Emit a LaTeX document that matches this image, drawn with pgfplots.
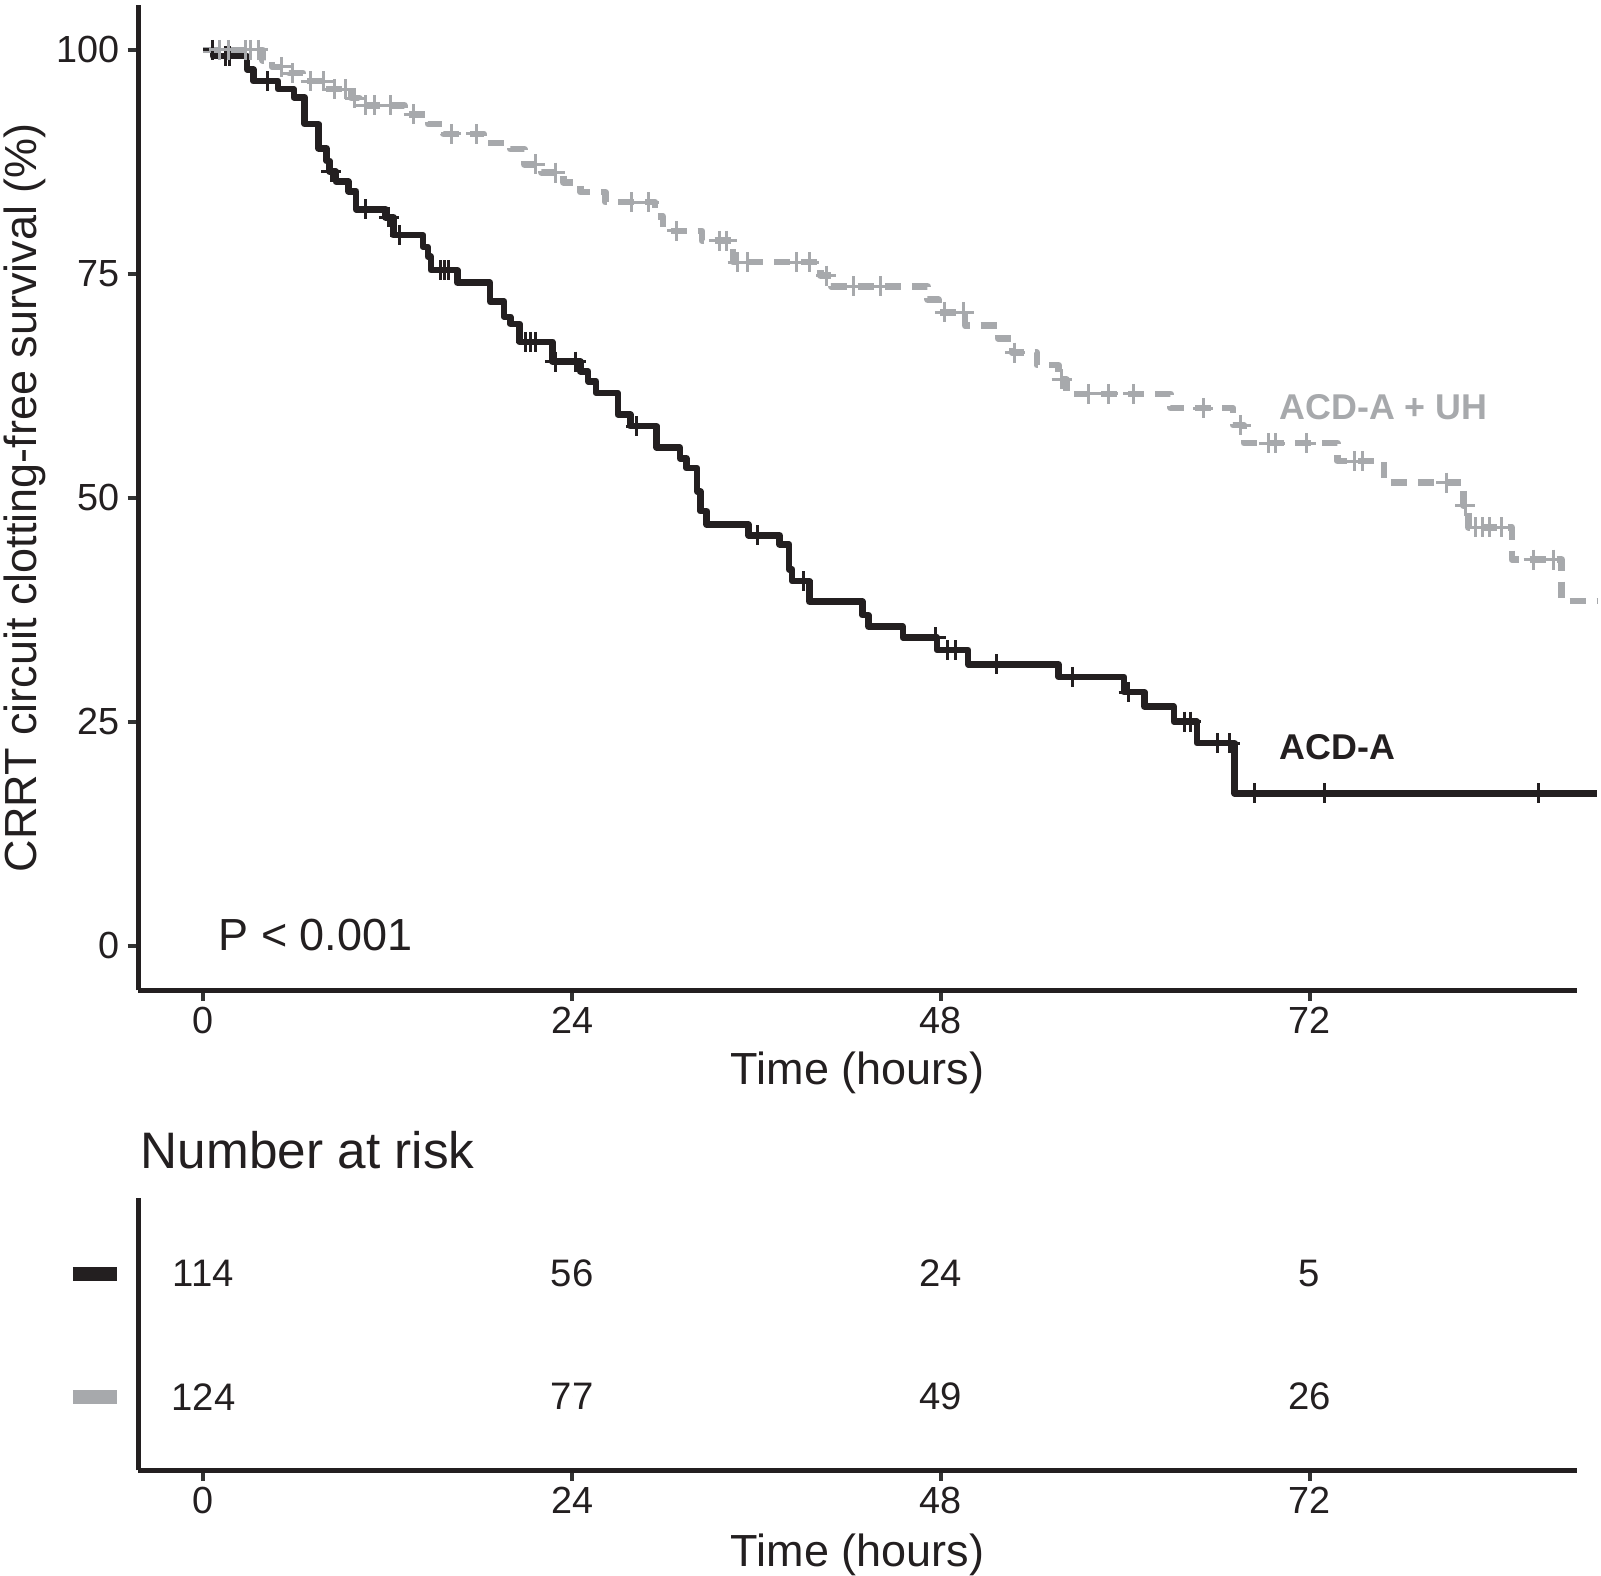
\documentclass[border=0pt]{standalone}
\usepackage{fontspec}
\setmainfont{Liberation Sans}
\usepackage{pgfplots}
\pgfplotsset{compat=1.18}
\usepackage{pgfplotstable}

\definecolor{kmblack}{HTML}{231F20}
\definecolor{kmgray}{HTML}{A7A9AC}
\definecolor{tickgray}{HTML}{333333}

% Kaplan-Meier steps, ACD-A (time in hours, survival in %)
\pgfplotstableread{
t s
0 100
0.61 99.3
2.84 97.8
3.24 96.5
4.86 95.6
5.88 94.7
6.59 91.7
7.50 89.0
8.01 87.6
8.21 86.4
8.62 85.3
9.43 84.2
9.93 82.2
11.86 81.3
12.37 79.3
14.29 78.0
14.60 76.9
14.80 75.4
16.52 74.0
18.65 71.9
19.57 70.2
19.97 69.4
20.58 67.4
22.71 65.2
24.53 64.1
25.04 63.0
25.55 61.7
26.97 59.3
27.78 58.0
29.50 55.6
31.02 54.4
31.43 53.3
32.14 50.7
32.34 48.5
32.75 47.0
35.48 45.8
37.51 44.8
38.12 42.0
38.32 40.7
39.44 38.4
42.89 36.9
43.29 35.6
45.52 34.4
47.75 33.0
49.78 31.4
55.66 30.0
59.92 28.3
61.24 26.7
63.16 25.0
64.68 22.6
67.12 17.0
90.7 17.0
}\acda

% censored, ACD-A
\pgfplotstableread{
t s
0.61 100
1.42 99.3
1.72 99.3
4.15 96.5
8.31 86.4
10.54 82.2
12.06 81.3
12.77 79.3
15.41 75.4
15.71 75.4
15.92 75.4
20.98 67.4
21.29 67.4
21.59 67.4
22.91 65.2
24.23 65.2
28.18 58.0
36.09 45.8
39.03 40.7
47.65 34.4
48.46 33.0
48.97 33.0
51.60 31.4
56.57 30.0
60.22 28.3
63.87 25.0
64.28 25.0
66.00 22.6
66.81 22.6
68.44 17.0
73.00 17.0
86.89 17.0
}\acdacens

% Kaplan-Meier steps, ACD-A + UH
\pgfplotstableread{
t s
0 100
3.85 98.8
4.46 98.1
5.57 97.4
6.49 96.5
7.91 95.6
9.63 94.6
10.14 93.8
13.08 92.8
14.60 91.7
15.61 90.6
18.25 89.6
19.97 88.9
20.88 87.2
22.00 86.3
23.42 85.2
24.53 84.1
26.16 83.0
29.40 81.4
29.91 79.8
32.44 78.7
34.47 76.3
40.15 74.8
40.86 73.6
47.14 72.1
47.85 70.7
49.58 69.2
51.71 67.8
52.62 66.2
54.24 64.8
55.66 63.2
56.17 61.6
62.96 60.0
67.02 58.1
67.73 56.1
73.81 54.1
76.85 51.7
82.02 49.1
82.33 46.7
85.16 43.1
88.41 38.5
90.7 38.5
}\acdauh

% censored, ACD-A + UH
\pgfplotstableread{
t s
1.01 100
1.62 100
2.73 100
3.04 100
3.55 100
5.07 98.1
5.78 97.4
6.99 96.5
7.80 96.5
8.51 95.6
9.22 95.6
9.83 94.6
10.54 93.8
11.15 93.8
12.16 93.8
13.68 92.8
16.12 90.6
17.74 90.6
21.59 87.2
22.91 86.3
27.88 83.0
28.99 83.0
30.82 79.8
33.56 78.7
34.06 78.7
34.77 76.3
35.38 76.3
38.63 76.3
39.44 76.3
40.55 74.8
42.28 73.6
44.10 73.6
48.26 70.7
49.48 70.7
52.82 66.2
55.86 63.2
57.59 61.6
58.90 61.6
60.53 61.6
65.09 60.0
67.52 58.1
69.35 56.1
69.75 56.1
71.78 56.1
74.92 54.1
75.43 54.1
80.90 51.7
82.12 49.1
82.83 46.7
83.24 46.7
83.74 46.7
84.46 46.7
86.58 43.1
87.90 43.1
}\acdauhcens

\pgfplotsset{
  kmaxis/.style={
    scale only axis,
    width=143.87mm,
    xmin=-4.25, xmax=89.4,
    axis x line=bottom, axis y line=left,
    axis line style={-, line width=0.47mm, kmblack},
    tick align=outside,
    major tick length=1.05mm,
    tick style={line width=0.4mm, tickgray},
    xtick={0,24,48,72},
    /pgf/number format/assume math mode=true,
    tick label style={font=\fontsize{10.75}{12}\selectfont, text=kmblack},
    xticklabel style={anchor=base, inner sep=0pt, yshift=-3.3mm},
    label style={font=\fontsize{12.8}{15}\selectfont, text=kmblack},
    xlabel={Time (hours)},
  },
}

\begin{document}
\begin{tikzpicture}
\useasboundingbox (0,0) rectangle (160.1mm,157.6mm);

% survival curves
\begin{axis}[kmaxis,
  at={(13.82mm,58.55mm)}, anchor=south west,
  height=98.55mm,
  ymin=-5, ymax=105,
  clip=false,
  ytick={0,25,50,75,100},
  yticklabel style={anchor=east, inner sep=0pt, xshift=-0.7mm},
  xlabel style={at={(axis description cs:0.5,0)}, anchor=base, inner sep=0pt, yshift=-9.45mm},
  ylabel={CRRT circuit clotting-free survival (\%)},
  ylabel style={at={(axis description cs:-0.0787,0.5)}, anchor=center, inner sep=0pt},
]
\addplot[const plot, kmblack, line width=0.65mm, line join=round] table[x=t,y=s] {\acda};
\addplot[only marks, mark=+, mark size=1mm, kmblack, mark options={line width=0.3mm}] table[x=t,y=s] {\acdacens};
\addplot[const plot, kmgray, line width=0.65mm, line join=round, dash pattern=on 1.6mm off 1.1mm] table[x=t,y=s] {\acdauh};
\addplot[only marks, mark=+, mark size=1mm, kmgray, mark options={line width=0.3mm}] table[x=t,y=s] {\acdauhcens};
\node[anchor=west, inner sep=0pt, font=\fontsize{12.8}{15}\selectfont, text=kmblack] at (axis cs:0.94,1.2) {P < 0.001};
\node[anchor=west, inner sep=0pt, font=\bfseries\fontsize{10.2}{12}\selectfont, text=kmgray] at (axis cs:70.0,60.1) {ACD-A + UH};
\node[anchor=west, inner sep=0pt, font=\bfseries\fontsize{10.2}{12}\selectfont, text=kmblack] at (axis cs:70.0,22.2) {ACD-A};
\end{axis}

% number at risk table
\begin{axis}[kmaxis,
  at={(13.82mm,10.55mm)}, anchor=south west,
  height=27.2mm,
  ymin=0.40, ymax=2.61,
  ytick={1,2},
  yticklabels={{\textcolor{kmgray}{\rule{4.4mm}{1.4mm}}},{\textcolor{kmblack}{\rule{4.4mm}{1.4mm}}}},
  ytick style={draw=none},
  yticklabel style={anchor=east, inner sep=0pt, xshift=-1.0mm},
  xlabel style={at={(axis description cs:0.5,0)}, anchor=base, inner sep=0pt, yshift=-9.6mm},
  title={Number at risk},
  title style={at={(axis description cs:0.0014,1.176)}, anchor=west, inner sep=0pt, yshift=-6pt, font=\fontsize{14.6}{17}\selectfont, text=kmblack},
]
\addplot[only marks, mark=*, mark size=0pt, mark options={draw=none},
  point meta=explicit symbolic, nodes near coords, nodes near coords align={center},
  nodes near coords style={font=\fontsize{10.9}{12}\selectfont, text=kmblack, inner sep=0pt}]
  coordinates {(0,2) [114] (24,2) [56] (48,2) [24] (72,2) [5]
               (0,1) [124] (24,1) [77] (48,1) [49] (72,1) [26]};
\end{axis}
\end{tikzpicture}
\end{document}
